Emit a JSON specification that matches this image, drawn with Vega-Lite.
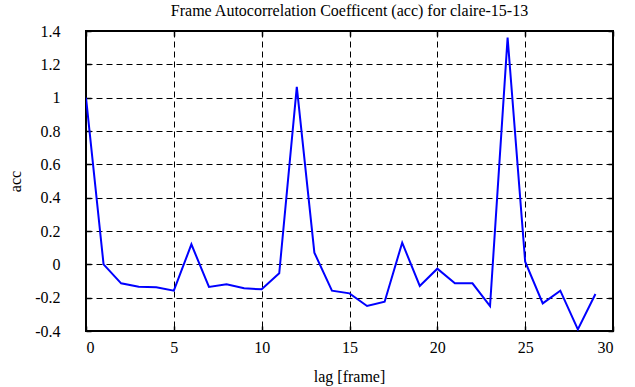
{
  "$schema": "https://vega.github.io/schema/vega-lite/v6.json",
  "width": 527,
  "height": 300,
  "autosize": "none",
  "padding": {"left": 86, "top": 31, "right": 22, "bottom": 56},
  "background": "white",
  "title": {
    "text": "Frame Autocorrelation Coefficent (acc) for claire-15-13",
    "font": "Liberation Serif",
    "fontSize": 16,
    "fontWeight": "normal",
    "color": "black",
    "anchor": "middle",
    "offset": 4
  },
  "config": {
    "view": {"stroke": "black", "strokeWidth": 2},
    "axis": {
      "domain": false,
      "labelFont": "Liberation Serif",
      "labelFontSize": 16,
      "labelColor": "black",
      "titleFont": "Liberation Serif",
      "titleFontSize": 16,
      "titleFontWeight": "normal",
      "titleColor": "black",
      "tickColor": "black",
      "tickWidth": 1.5,
      "tickSize": -5,
      "gridColor": "black",
      "gridOpacity": 1,
      "gridWidth": 1,
      "gridDash": [6, 4]
    }
  },
  "data": {
    "values": [
      {"lag": 0, "acc": 1.0},
      {"lag": 1, "acc": 0.0},
      {"lag": 2, "acc": -0.114},
      {"lag": 3, "acc": -0.134},
      {"lag": 4, "acc": -0.138},
      {"lag": 5, "acc": -0.158},
      {"lag": 6, "acc": 0.12},
      {"lag": 7, "acc": -0.136},
      {"lag": 8, "acc": -0.12},
      {"lag": 9, "acc": -0.144},
      {"lag": 10, "acc": -0.15},
      {"lag": 11, "acc": -0.054},
      {"lag": 12, "acc": 1.065},
      {"lag": 13, "acc": 0.07},
      {"lag": 14, "acc": -0.158},
      {"lag": 15, "acc": -0.174},
      {"lag": 16, "acc": -0.25},
      {"lag": 17, "acc": -0.224},
      {"lag": 18, "acc": 0.13},
      {"lag": 19, "acc": -0.13},
      {"lag": 20, "acc": -0.026},
      {"lag": 21, "acc": -0.114},
      {"lag": 22, "acc": -0.114},
      {"lag": 23, "acc": -0.25},
      {"lag": 24, "acc": 1.36},
      {"lag": 25, "acc": 0.016},
      {"lag": 26, "acc": -0.234},
      {"lag": 27, "acc": -0.158},
      {"lag": 28, "acc": -0.39},
      {"lag": 29, "acc": -0.178}
    ]
  },
  "layer": [
    {
      "mark": {"type": "line", "color": "#0000ff", "strokeWidth": 2, "clip": true},
      "encoding": {
        "x": {
          "field": "lag", "type": "quantitative",
          "scale": {"domain": [0, 30], "nice": false, "zero": false},
          "axis": {
            "orient": "bottom",
            "title": "lag [frame]",
            "values": [0, 5, 10, 15, 20, 25, 30],
            "grid": true,
            "labelPadding": 13,
            "titleX": 263,
            "titleY": 45,
            "titleBaseline": "middle",
            "titleAlign": "center"
          }
        },
        "y": {
          "field": "acc", "type": "quantitative",
          "scale": {"domain": [-0.4, 1.4], "nice": false, "zero": false},
          "axis": {
            "orient": "left",
            "title": "acc",
            "values": [-0.4, -0.2, 0, 0.2, 0.4, 0.6, 0.8, 1, 1.2, 1.4],
            "labelExpr": "replace(format(datum.value, '~g'), '\u2212', '-')",
            "grid": true,
            "labelPadding": 31,
            "titleX": -71,
            "titleY": 150,
            "titleAngle": 270,
            "titleBaseline": "middle",
            "titleAlign": "center"
          }
        }
      }
    },
    {
      "mark": {"type": "line", "opacity": 0},
      "encoding": {
        "x": {
          "field": "lag", "type": "quantitative",
          "scale": {"domain": [0, 30], "nice": false, "zero": false},
          "axis": {"orient": "top", "title": null, "labels": false, "grid": false, "values": [0, 5, 10, 15, 20, 25, 30]}
        },
        "y": {
          "field": "acc", "type": "quantitative",
          "scale": {"domain": [-0.4, 1.4], "nice": false, "zero": false},
          "axis": {"orient": "right", "title": null, "labels": false, "grid": false, "values": [-0.4, -0.2, 0, 0.2, 0.4, 0.6, 0.8, 1, 1.2, 1.4]}
        }
      }
    }
  ],
  "resolve": {"axis": {"x": "independent", "y": "independent"}}
}
